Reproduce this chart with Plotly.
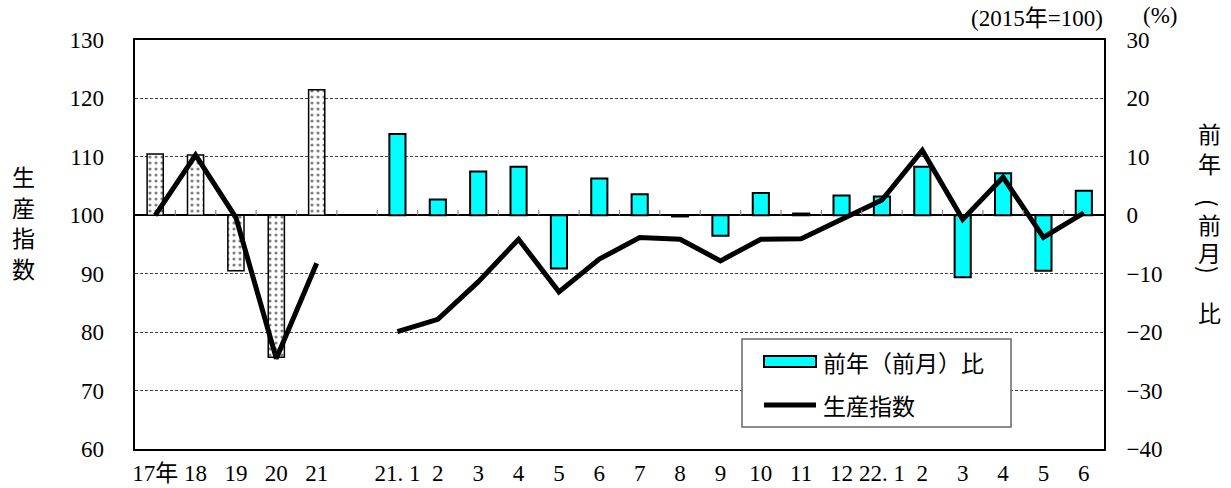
import plotly.graph_objects as go

# ---- data ----
categories = ["17年", "18", "19", "20", "21", "",
              "21. 1", "2", "3", "4", "5", "6", "7", "8", "9", "10", "11", "12",
              "22. 1", "2", "3", "4", "5", "6"]
index_values = [100.0, 110.3, 99.6, 75.5, 91.8, None,
                80.1, 82.2, 88.6, 95.9, 86.9, 92.5, 96.2, 95.9, 92.2, 95.9, 96.0, 99.3,
                102.6, 111.1, 99.3, 106.5, 96.2, 100.4]
pct_values = [10.5, 10.3, -9.5, -24.3, 21.5, None,
              13.9, 2.7, 7.5, 8.3, -9.1, 6.3, 3.6, -0.2, -3.5, 3.8, 0.3, 3.4,
              3.2, 8.3, -10.6, 7.2, -9.5, 4.2]
n_annual = 5
left_ticks = [60, 70, 80, 90, 100, 110, 120, 130]
right_ticks = [-40, -30, -20, -10, 0, 10, 20, 30]

xpos = list(range(len(categories)))

# ---- geometry (pixels) ----
W, H = 1231, 488
L, R, T, B = 135, 1104, 40, 449


def px(x):
    return (x - L) / (R - L)


def py(y):
    return (B - y) / (B - T)


NUM = "Liberation Serif, 'Noto Sans CJK JP', serif"
JP = "'Noto Sans CJK JP', sans-serif"
FS = 23

fig = go.Figure()

# annual bars (dotted pattern)
fig.add_trace(go.Bar(
    x=xpos[:n_annual], y=pct_values[:n_annual], width=0.4, yaxis="y",
    marker=dict(color="white", line=dict(color="black", width=1.5),
                pattern=dict(shape=".", fgcolor="black", bgcolor="white", size=6, solidity=0.22)),
    showlegend=False, hoverinfo="skip"))
# monthly bars (cyan)
fig.add_trace(go.Bar(
    x=xpos[n_annual + 1:], y=pct_values[n_annual + 1:], width=0.4, yaxis="y",
    marker=dict(color="#00FFFF", line=dict(color="black", width=2)),
    showlegend=False))
# index line
fig.add_trace(go.Scatter(
    x=xpos, y=index_values, yaxis="y2", mode="lines",
    line=dict(color="black", width=5), connectgaps=False, showlegend=False))

# tick marks on the 100 line between categories
shapes = []
for i in range(len(categories) - 1):
    shapes.append(dict(type="line", xref="x", yref="y", x0=i + 0.5, x1=i + 0.5,
                       y0=0, y1=0.9, line=dict(color="#888888", width=1.2)))

# legend box
shapes.append(dict(type="rect", xref="paper", yref="paper",
                   x0=px(742), x1=px(1011), y0=py(427), y1=py(339),
                   line=dict(color="#666666", width=1.5), fillcolor="white"))
shapes.append(dict(type="rect", xref="paper", yref="paper",
                   x0=px(764), x1=px(816), y0=py(367), y1=py(356),
                   line=dict(color="black", width=2), fillcolor="#00FFFF"))
shapes.append(dict(type="line", xref="paper", yref="paper",
                   x0=px(764), x1=px(816), y0=py(405), y1=py(405),
                   line=dict(color="black", width=5)))

annotations = [
    dict(text="前年（前月）比", x=px(821), y=py(362), xref="paper", yref="paper",
         xanchor="left", yanchor="middle", showarrow=False, font=dict(family=JP, size=FS, color="black")),
    dict(text="生産指数", x=px(821), y=py(405), xref="paper", yref="paper",
         xanchor="left", yanchor="middle", showarrow=False, font=dict(family=JP, size=FS, color="black")),
    dict(text="(2015年=100)", x=px(1105), y=py(18), xref="paper", yref="paper",
         xanchor="right", yanchor="middle", showarrow=False, font=dict(family=NUM, size=FS, color="black")),
    dict(text="(%)", x=px(1160), y=py(15), xref="paper", yref="paper",
         xanchor="center", yanchor="middle", showarrow=False, font=dict(family=NUM, size=FS, color="black")),
]
for ch, yy in zip("生産指数", [176, 207, 237, 268]):
    annotations.append(dict(text=ch, x=px(23), y=py(yy), xref="paper", yref="paper",
                            xanchor="center", yanchor="middle", showarrow=False,
                            font=dict(family=JP, size=FS, color="black")))
for ch, yy, ang in zip(["前", "年", "(", "前", "月", ")", "比"],
                       [133, 163, 203, 224, 252, 270, 312],
                       [0, 0, 90, 0, 0, 90, 0]):
    annotations.append(dict(text=ch, x=px(1209), y=py(yy), xref="paper", yref="paper",
                            xanchor="center", yanchor="middle", showarrow=False, textangle=ang,
                            font=dict(family=JP, size=FS, color="black")))

fig.update_layout(
    width=W, height=H, autosize=False,
    margin=dict(l=L, r=W - R, t=T, b=H - B, autoexpand=False),
    paper_bgcolor="white", plot_bgcolor="white",
    barmode="overlay",
    showlegend=False,
    font=dict(family=NUM, size=FS, color="black"),
    xaxis=dict(range=[-0.5, len(categories) - 0.5], tickmode="array", tickvals=xpos, ticktext=categories,
               showgrid=False, zeroline=False, showline=True, linecolor="black", linewidth=2, mirror=True,
               automargin=False,
               ticks="", ticklabelstandoff=2, tickfont=dict(family=NUM, size=FS, color="black")),
    yaxis=dict(range=[-40, 30], tickmode="array", tickvals=right_ticks, side="right",
               showgrid=True, gridcolor="#444444", gridwidth=1, griddash="3px,2px",
               zeroline=True, zerolinecolor="black", zerolinewidth=2,
               showline=True, linecolor="black", linewidth=2, mirror=True, automargin=False,
               ticks="", ticklabelstandoff=16, tickfont=dict(family=NUM, size=FS, color="black")),
    yaxis2=dict(range=[60, 130], tickmode="array", tickvals=left_ticks, side="left", overlaying="y",
                showgrid=False, zeroline=False, showline=False, automargin=False,
                ticks="", ticklabelstandoff=30, tickfont=dict(family=NUM, size=FS, color="black")),
    shapes=shapes,
    annotations=annotations,
)

post = ("document.body.style.margin='0';document.body.style.overflow='hidden';"
        "var gd=document.getElementById('{plot_id}');"
        "Plotly.relayout(gd,{width:%d,height:%d});" % (W, H))
fig.write_html("out.html", config={"responsive": False, "displayModeBar": False}, post_script=post)
